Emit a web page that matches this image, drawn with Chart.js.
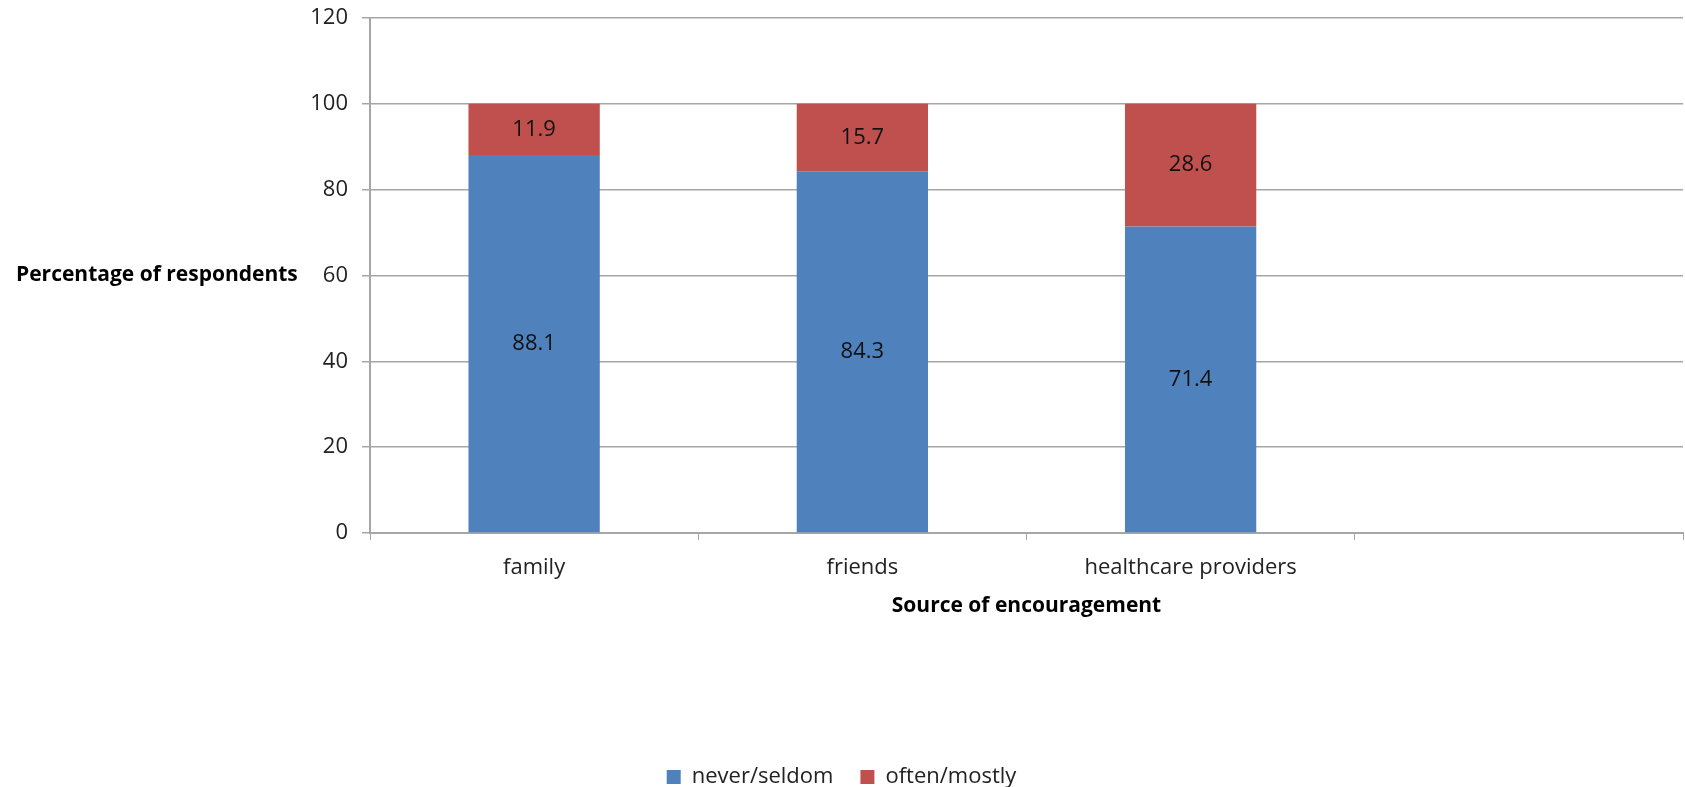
<!DOCTYPE html>
<html>
<head>
<meta charset="utf-8">
<script src="https://cdn.jsdelivr.net/npm/chart.js@4/dist/chart.umd.min.js"></script>
<style>
  html, body { margin: 0; padding: 0; background: #fff; }
  #wrap { width: 1685px; height: 787px; }
</style>
</head>
<body>
<div id="wrap"><canvas id="c" width="1685" height="787"></canvas></div>
<script>
// Source of encouragement categories (the last slot is left empty)
const categories = ['family', 'friends', 'healthcare providers', ''];
const neverSeldom = [88.1, 84.3, 71.4, null];
const oftenMostly = [11.9, 15.7, 28.6, null];
const yTicks = [0, 20, 40, 60, 80, 100, 120];

const FONT = '"Open Sans", "Liberation Sans", sans-serif';
const GRID = '#a6a6a6';

// Horizontal y-axis title placed to the left of the tick labels
const yTitlePlugin = {
  id: 'yTitle',
  afterDraw(chart) {
    const { ctx, chartArea } = chart;
    ctx.save();
    ctx.font = 'bold 21px ' + FONT;
    ctx.fillStyle = '#000';
    ctx.textAlign = 'left';
    ctx.textBaseline = 'middle';
    ctx.fillText('Percentage of respondents', 16, (chartArea.top + chartArea.bottom) / 2);
    ctx.restore();
  }
};

// Value labels centred inside each bar segment
const valueLabelPlugin = {
  id: 'valueLabels',
  afterDatasetsDraw(chart) {
    const { ctx } = chart;
    ctx.save();
    ctx.font = '22px ' + FONT;
    ctx.fillStyle = '#111';
    ctx.textAlign = 'center';
    ctx.textBaseline = 'middle';
    chart.data.datasets.forEach((ds, i) => {
      const meta = chart.getDatasetMeta(i);
      meta.data.forEach((bar, j) => {
        const v = ds.data[j];
        if (v == null) return;
        const mid = (bar.y + bar.base) / 2;
        ctx.fillText(v.toFixed(1), bar.x, mid);
      });
    });
    ctx.restore();
  }
};

new Chart(document.getElementById('c'), {
  type: 'bar',
  data: {
    labels: categories,
    datasets: [
      { label: 'never/seldom', data: neverSeldom, backgroundColor: '#4F81BD' },
      { label: 'often/mostly', data: oftenMostly, backgroundColor: '#C0504D' }
    ]
  },
  options: {
    responsive: false,
    animation: false,
    layout: { padding: { left: 0, right: 2, top: 18, bottom: -11 } },
    datasets: { bar: { categoryPercentage: 1.0, barPercentage: 0.4 } },
    plugins: {
      legend: {
        position: 'bottom',
        labels: {
          boxWidth: 14, boxHeight: 14, padding: 27,
          color: '#222', font: { family: FONT, size: 22 }
        }
      },
      tooltip: { enabled: false }
    },
    scales: {
      x: {
        stacked: true,
        offset: true,
        grid: { offset: true, drawOnChartArea: false, drawTicks: true, tickLength: 7, color: GRID },
        border: { color: GRID, width: 2 },
        ticks: { color: '#222', font: { family: FONT, size: 22 }, padding: 15 },
        title: {
          display: true, text: 'Source of encouragement', color: '#000',
          font: { family: FONT, size: 21, weight: 'bold' }, padding: { top: 4, bottom: 120 }
        },
        afterFit(scale) { scale.height = 206; }
      },
      y: {
        stacked: true,
        min: 0, max: 120,
        afterBuildTicks(scale) { scale.ticks = yTicks.map(v => ({ value: v })); },
        grid: { color: GRID, lineWidth: 1.5, tickLength: 8 },
        border: { color: GRID, width: 2 },
        ticks: { color: '#222', font: { family: FONT, size: 22 }, padding: 14 },
        afterFit(scale) {
          scale.width = 370;
          scale.paddingTop = 0;
          scale.paddingBottom = 0;
        }
      }
    }
  },
  plugins: [yTitlePlugin, valueLabelPlugin]
});
</script>
</body>
</html>
